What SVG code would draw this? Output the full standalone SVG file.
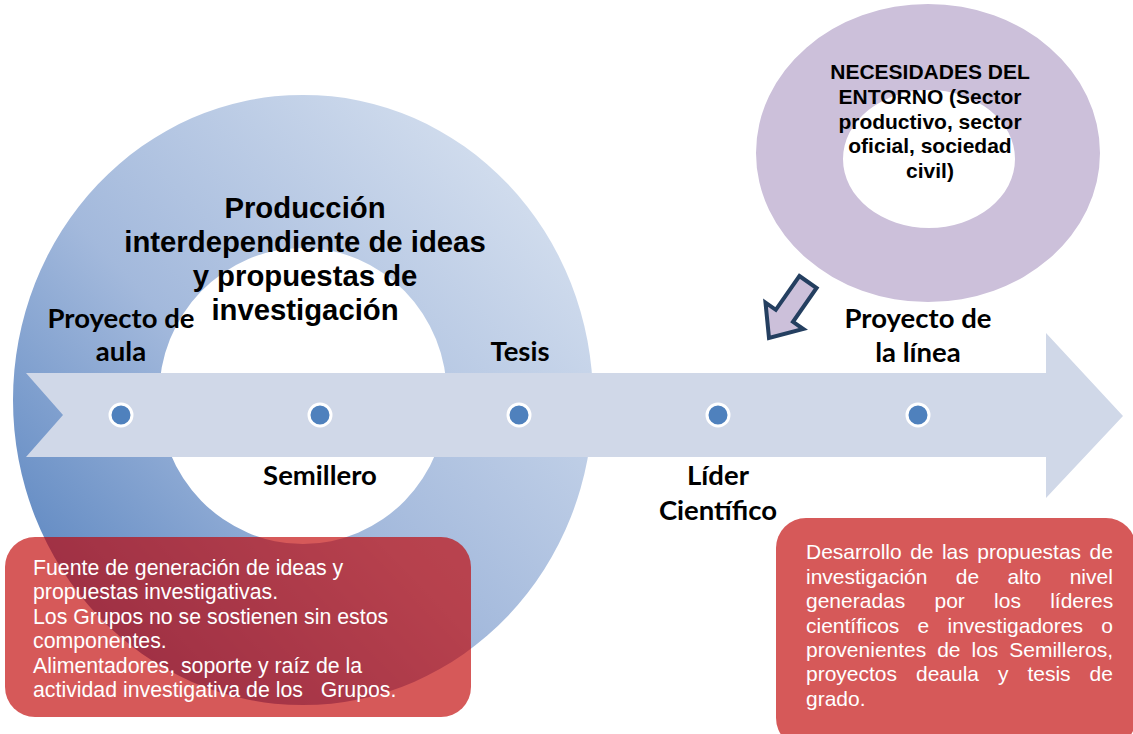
<svg xmlns="http://www.w3.org/2000/svg" width="1133" height="734" viewBox="0 0 1133 734">
  <defs>
    <linearGradient id="blueGrad" x1="0" y1="1" x2="1" y2="0">
      <stop offset="0" stop-color="#4576b8"/>
      <stop offset="0.45" stop-color="#a3b9dc"/>
      <stop offset="1" stop-color="#e0e8f3"/>
    </linearGradient>
  </defs>
  <style>
    .lbl { font-family: Lato, "Open Sans", sans-serif; font-weight: bold; font-size: 27.5px; fill: #000; text-anchor: middle; }
    .title { font-family: "Liberation Sans", Arial, sans-serif; font-weight: bold; font-size: 29.3px; fill: #000; text-anchor: middle; }
    .need { font-family: "Liberation Sans", Arial, sans-serif; font-weight: bold; font-size: 21px; fill: #000; text-anchor: middle; }
    .body { font-family: "Liberation Sans", Arial, sans-serif; font-size: 21.3px; fill: #fff; }
    .jbody { font-family: "Liberation Sans", Arial, sans-serif; font-size: 21px; fill: #fff; }
    .dot { fill: #4f81bd; stroke: #fff; stroke-width: 3; }
    .redbox { fill: #c00000; fill-opacity: 0.65; }
  </style>

  <g id="production-ring">
    <path fill="url(#blueGrad)" fill-rule="evenodd" d="M13,400 A290,305 0 1,0 593,400 A290,305 0 1,0 13,400 Z M159,396 A144,148 0 1,0 447,396 A144,148 0 1,0 159,396 Z"/>
    <text class="title" x="305" y="218">Producción</text>
    <text class="title" x="305" y="252">interdependiente de ideas</text>
    <text class="title" x="305" y="286">y propuestas de</text>
    <text class="title" x="305" y="320">investigación</text>
  </g>

  <g id="needs-ring">
    <path fill="#ccc0da" fill-rule="evenodd" d="M756,153 A172,149 0 1,0 1100,153 A172,149 0 1,0 756,153 Z M843,159 A86,69 0 1,0 1015,159 A86,69 0 1,0 843,159 Z"/>
    <text class="need" x="930" y="79">NECESIDADES DEL</text>
    <text class="need" x="930" y="104">ENTORNO (Sector</text>
    <text class="need" x="930" y="129">productivo, sector</text>
    <text class="need" x="930" y="153">oficial, sociedad</text>
    <text class="need" x="930" y="178">civil)</text>
  </g>

  <g id="connectors">
    <polygon id="timeline-arrow" fill="#d0d8e8" points="26,373 1046,373 1046,333 1123,416 1046,498 1046,457 26,457 63,415"/>
    <polygon id="needs-arrow" fill="#ccc0da" stroke="#243f60" stroke-width="4" stroke-linejoin="miter" points="799.4,276 816.6,288 793,321.8 803.3,329 769,338 765.5,302.6 775.8,309.8"/>
  </g>

  <g id="milestones">
    <circle class="dot" cx="121" cy="415" r="11"/>
    <circle class="dot" cx="320" cy="415" r="11"/>
    <circle class="dot" cx="519" cy="415" r="11"/>
    <circle class="dot" cx="718" cy="415" r="11"/>
    <circle class="dot" cx="918" cy="415" r="11"/>
  </g>

  <g id="label-proyecto-aula">
    <text class="lbl" x="121" y="328">Proyecto de</text>
    <text class="lbl" x="121" y="361">aula</text>
  </g>
  <g id="label-tesis">
    <text class="lbl" x="520" y="361">Tesis</text>
  </g>
  <g id="label-semillero">
    <text class="lbl" x="320" y="485">Semillero</text>
  </g>
  <g id="label-lider">
    <text class="lbl" x="718" y="485">Líder</text>
    <text class="lbl" x="718" y="520">Científico</text>
  </g>
  <g id="label-proyecto-linea">
    <text class="lbl" x="918" y="328">Proyecto de</text>
    <text class="lbl" x="918" y="362">la línea</text>
  </g>

  <g id="box-left">
    <rect class="redbox" x="5" y="537" width="466" height="180" rx="30"/>
    <text class="body" x="33" y="575">Fuente de generación de ideas y</text>
    <text class="body" x="33" y="599">propuestas investigativas.</text>
    <text class="body" x="33" y="624">Los Grupos no se sostienen sin estos</text>
    <text class="body" x="33" y="648">componentes.</text>
    <text class="body" x="33" y="673">Alimentadores, soporte y raíz de la</text>
    <text class="body" x="33" y="697" xml:space="preserve">actividad investigativa de los   Grupos.</text>
  </g>

  <g id="box-right">
    <rect class="redbox" x="776" y="518" width="360" height="230" rx="30"/>
    <text class="jbody" x="806" y="559" word-spacing="2.6">Desarrollo de las propuestas de</text>
    <text class="jbody" x="806" y="584" word-spacing="22.5">investigación de alto nivel</text>
    <text class="jbody" x="806" y="608" word-spacing="23.4">generadas por los líderes</text>
    <text class="jbody" x="806" y="633" word-spacing="12.4">científicos e investigadores o</text>
    <text class="jbody" x="806" y="657" word-spacing="5.1">provenientes de los Semilleros,</text>
    <text class="jbody" x="806" y="681" word-spacing="13.1">proyectos deaula y tesis de</text>
    <text class="jbody" x="806" y="706">grado.</text>
  </g>
</svg>
